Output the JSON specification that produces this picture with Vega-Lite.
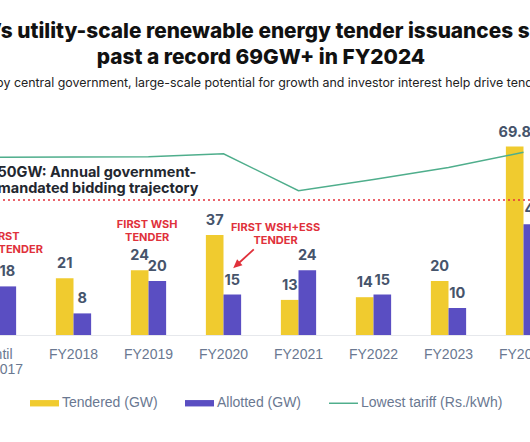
{
  "$schema": "https://vega.github.io/schema/vega-lite/v6.json",
  "width": 530,
  "height": 240,
  "autosize": {"type": "none"},
  "padding": {"left": 0, "right": 0, "top": 95, "bottom": 107},
  "background": "white",
  "title": {
    "text": ["India’s utility-scale renewable energy tender issuances surge", "past a record 69GW+ in FY2024"],
    "subtitle": "Led by central government, large-scale potential for growth and investor interest help drive tenders",
    "anchor": "middle",
    "frame": "group",
    "dx": -4,
    "font": "Inter",
    "fontSize": 20.8,
    "fontWeight": 800,
    "lineHeight": 26,
    "color": "#111111",
    "subtitleFont": "Inter",
    "subtitleFontSize": 12.4,
    "subtitleFontWeight": 400,
    "subtitleColor": "#222222",
    "subtitlePadding": 8,
    "offset": 5
  },
  "datasets": {
    "bars": [
      {"year": "Until FY2017", "series": "Tendered (GW)", "value": 30},
      {"year": "Until FY2017", "series": "Allotted (GW)", "value": 18},
      {"year": "FY2018", "series": "Tendered (GW)", "value": 21},
      {"year": "FY2018", "series": "Allotted (GW)", "value": 8},
      {"year": "FY2019", "series": "Tendered (GW)", "value": 24},
      {"year": "FY2019", "series": "Allotted (GW)", "value": 20},
      {"year": "FY2020", "series": "Tendered (GW)", "value": 37},
      {"year": "FY2020", "series": "Allotted (GW)", "value": 15},
      {"year": "FY2021", "series": "Tendered (GW)", "value": 13},
      {"year": "FY2021", "series": "Allotted (GW)", "value": 24},
      {"year": "FY2022", "series": "Tendered (GW)", "value": 14},
      {"year": "FY2022", "series": "Allotted (GW)", "value": 15},
      {"year": "FY2023", "series": "Tendered (GW)", "value": 20},
      {"year": "FY2023", "series": "Allotted (GW)", "value": 10},
      {"year": "FY2024", "series": "Tendered (GW)", "value": 69.8},
      {"year": "FY2024", "series": "Allotted (GW)", "value": 41}
    ],
    "tariff": [
      {"year": "Until FY2017", "tariff": 2.45},
      {"year": "FY2018", "tariff": 2.455},
      {"year": "FY2019", "tariff": 2.46},
      {"year": "FY2020", "tariff": 2.50},
      {"year": "FY2021", "tariff": 1.99},
      {"year": "FY2022", "tariff": 2.145},
      {"year": "FY2023", "tariff": 2.31},
      {"year": "FY2024", "tariff": 2.52}
    ],
    "notes": [
      {"year": "Until FY2017", "note": "FIRST\nWIND TENDER", "gw": 36.4},
      {"year": "FY2019", "note": "FIRST WSH\nTENDER", "gw": 40.7},
      {"year": "FY2021", "note": "FIRST WSH+ESS\nTENDER", "gw": 39.5}
    ],
    "target": [
      {"year": "Until FY2017", "gw": 50, "note": "50GW: Annual government-\nmandated bidding trajectory"}
    ],
    "arrow": [
      {"year": "FY2020", "gw": 28.5}
    ]
  },
  "layer": [
    {
      "layer": [
        {
          "data": {"name": "bars"},
          "mark": {"type": "bar"},
          "encoding": {
            "x": {
              "field": "year", "type": "nominal", "sort": null, "title": null,
              "scale": {"range": [-39, 561], "paddingInner": 0.53, "paddingOuter": 0.265},
              "axis": {
                "domainColor": "#e6e8ec", "ticks": false, "grid": false,
                "labelFont": "Liberation Sans", "labelFontSize": 14, "labelColor": "#6a7891",
                "labelPadding": 12, "labelLineHeight": 15, "labelAngle": 0, "labelOverlap": false,
                "labelExpr": "datum.label == 'Until FY2017' ? ['Until', 'FY2017'] : datum.label"
              }
            },
            "xOffset": {"field": "series", "type": "nominal", "sort": ["Tendered (GW)", "Allotted (GW)"]},
            "y": {"field": "value", "type": "quantitative", "scale": {"domain": [0, 88.89], "nice": false}, "axis": null},
            "color": {
              "field": "series", "type": "nominal",
              "scale": {
                "domain": ["Tendered (GW)", "Allotted (GW)", "Lowest tariff (Rs./kWh)"],
                "range": ["#f0cb2f", "#5a4ec2", "#4fae8c"]
              },
              "legend": {
                "title": null, "orient": "none", "legendX": 30, "legendY": 293.5,
                "direction": "horizontal", "columns": 3, "columnPadding": 27,
                "symbolType": "M-1,-0.22H1V0.22H-1Z", "symbolSize": 841, "symbolStrokeWidth": 0,
                "labelFont": "Liberation Sans", "labelFontSize": 14, "labelColor": "#6a7891",
                "labelOffset": 3, "padding": 0,
                "encode": {
                  "symbols": {
                    "update": {
                      "shape": {"signal": "datum.value === 'Lowest tariff (Rs./kWh)' ? 'M-1,-0.05H1V0.05H-1Z' : 'M-1,-0.22H1V0.22H-1Z'"}
                    }
                  }
                }
              }
            }
          }
        },
        {
          "data": {"name": "bars"},
          "mark": {"type": "text", "font": "Inter", "fontSize": 14.5, "fontWeight": 700, "color": "#46546b", "baseline": "alphabetic", "dy": -10},
          "encoding": {
            "x": {"field": "year", "type": "nominal", "sort": null},
            "xOffset": {"field": "series", "type": "nominal", "sort": ["Tendered (GW)", "Allotted (GW)"]},
            "y": {"field": "value", "type": "quantitative", "scale": {"domain": [0, 88.89], "nice": false}},
            "text": {"field": "value", "type": "quantitative"}
          }
        },
        {
          "data": {"name": "target"},
          "mark": {"type": "rule", "color": "#e5323c", "strokeWidth": 1.5, "strokeDash": [2, 3]},
          "encoding": {"y": {"field": "gw", "type": "quantitative", "scale": {"domain": [0, 88.89], "nice": false}}}
        },
        {
          "data": {"name": "target"},
          "mark": {"type": "text", "font": "Inter", "fontSize": 14.5, "fontWeight": 700, "color": "#23272f", "align": "left", "baseline": "middle", "lineBreak": "\n", "lineHeight": 16.6, "dx": -1, "dy": -27.3},
          "encoding": {
            "x": {"field": "year", "type": "nominal", "sort": null},
            "y": {"field": "gw", "type": "quantitative", "scale": {"domain": [0, 88.89], "nice": false}},
            "text": {"field": "note"}
          }
        },
        {
          "data": {"name": "notes"},
          "transform": [{"filter": "datum.year == 'Until FY2017'"}],
          "mark": {"type": "text", "font": "Inter", "fontSize": 11, "fontWeight": 700, "color": "#e0313b", "align": "center", "baseline": "middle", "lineBreak": "\n", "lineHeight": 13, "dx": 5.5},
          "encoding": {
            "x": {"field": "year", "type": "nominal", "sort": null},
            "y": {"field": "gw", "type": "quantitative", "scale": {"domain": [0, 88.89], "nice": false}},
            "text": {"field": "note"}
          }
        },
        {
          "data": {"name": "notes"},
          "transform": [{"filter": "datum.year == 'FY2019'"}],
          "mark": {"type": "text", "font": "Inter", "fontSize": 11, "fontWeight": 700, "color": "#e0313b", "align": "center", "baseline": "middle", "lineBreak": "\n", "lineHeight": 13, "dx": -1.3},
          "encoding": {
            "x": {"field": "year", "type": "nominal", "sort": null},
            "y": {"field": "gw", "type": "quantitative", "scale": {"domain": [0, 88.89], "nice": false}},
            "text": {"field": "note"}
          }
        },
        {
          "data": {"name": "notes"},
          "transform": [{"filter": "datum.year == 'FY2021'"}],
          "mark": {"type": "text", "font": "Inter", "fontSize": 11, "fontWeight": 700, "color": "#e0313b", "align": "center", "baseline": "middle", "lineBreak": "\n", "lineHeight": 13, "dx": -23},
          "encoding": {
            "x": {"field": "year", "type": "nominal", "sort": null},
            "y": {"field": "gw", "type": "quantitative", "scale": {"domain": [0, 88.89], "nice": false}},
            "text": {"field": "note"}
          }
        },
        {
          "data": {"name": "arrow"},
          "mark": {
            "type": "point", "filled": true, "color": "#e0313b", "stroke": "#e0313b", "strokeWidth": 1.8, "opacity": 1,
            "shape": "M2.33,-0.67L1.1,0.46M0.87,0.67L1.337,0.514L1.067,0.218Z", "size": 676
          },
          "encoding": {
            "x": {"field": "year", "type": "nominal", "sort": null},
            "y": {"field": "gw", "type": "quantitative", "scale": {"domain": [0, 88.89], "nice": false}}
          }
        }
      ]
    },
    {
      "data": {"name": "tariff"},
      "mark": {"type": "line", "color": "#4fae8c", "strokeWidth": 1.5},
      "encoding": {
        "x": {"field": "year", "type": "nominal", "sort": null},
        "y": {"field": "tariff", "type": "quantitative", "scale": {"domain": [0, 3.31], "nice": false}, "axis": null}
      }
    }
  ],
  "resolve": {"scale": {"y": "independent"}},
  "config": {"view": {"stroke": null}}
}
